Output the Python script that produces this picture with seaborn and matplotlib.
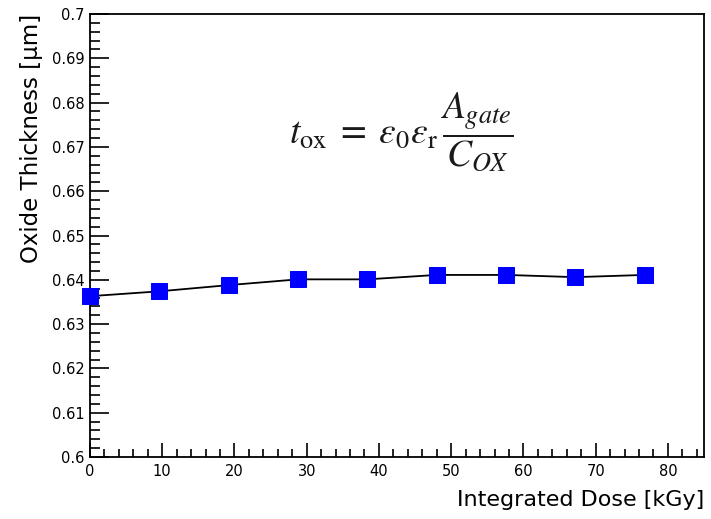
import matplotlib
matplotlib.use("Agg")
import matplotlib.pyplot as plt
from matplotlib.ticker import MultipleLocator, FuncFormatter
import seaborn as sns
import pandas as pd

dose_kgy = [0.0, 9.6, 19.2, 28.8, 38.4, 48.0, 57.6, 67.2, 76.8]
oxide_thickness_um = [0.6363, 0.6374, 0.6388, 0.6401, 0.6401, 0.6411, 0.6411, 0.6406, 0.6411]

df = pd.DataFrame({"dose": dose_kgy, "tox": oxide_thickness_um})

sns.set_theme(style="white")
plt.rcParams["font.family"] = ["DejaVu Sans"]
plt.rcParams["mathtext.fontset"] = "stix"

fig = plt.figure(figsize=(7.11, 5.19), dpi=100)
ax = fig.add_axes([90 / 711, 1 - 457 / 519, (704 - 90) / 711, (457 - 14) / 519])

sns.lineplot(data=df, x="dose", y="tox", ax=ax, color="black", linewidth=1.3,
             marker="s", markersize=11, markerfacecolor="#0000ff",
             markeredgecolor="#0000ff", clip_on=False, zorder=3)

ax.set_xlim(0, 85)
ax.set_ylim(0.6, 0.7)

for s in ax.spines.values():
    s.set_color("black")
    s.set_linewidth(1.3)

ax.xaxis.set_major_locator(MultipleLocator(10))
ax.xaxis.set_minor_locator(MultipleLocator(2))
ax.yaxis.set_major_locator(MultipleLocator(0.01))
ax.yaxis.set_minor_locator(MultipleLocator(0.002))
ax.yaxis.set_major_formatter(FuncFormatter(lambda v, p: f"{v:.2f}".rstrip("0")))

ax.tick_params(axis="both", which="both", direction="in", colors="black",
               labelsize=10.5, top=False, right=False, left=True, bottom=True)
ax.tick_params(axis="y", which="major", length=13.5, width=1.2, pad=4)
ax.tick_params(axis="y", which="minor", length=7, width=1.2)
ax.tick_params(axis="x", which="major", length=10, width=1.2, pad=5)
ax.tick_params(axis="x", which="minor", length=5.5, width=1.2)

ax.set_xlabel("Integrated Dose [kGy]", fontsize=16, loc="right", labelpad=8, color="black")
ax.set_ylabel("Oxide Thickness [\u00b5m]", fontsize=16.5, loc="top", labelpad=6, color="black")

ax.text(0.507, 0.734, r"$t_{\rm ox}\;=\;\varepsilon_0\varepsilon_{\rm r}\,\dfrac{A_{gate}}{C_{OX}}$",
        transform=ax.transAxes, fontsize=27, ha="center", va="center", color="#1a1a1a")

fig.savefig("out.png", dpi=100)
